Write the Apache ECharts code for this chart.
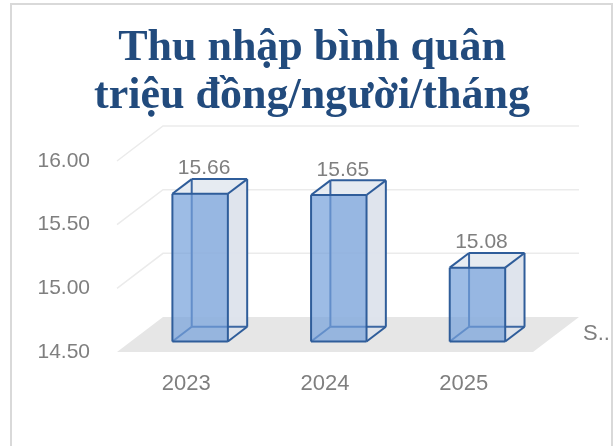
<!DOCTYPE html>
<html>
<head>
<meta charset="utf-8">
<script src="https://cdn.jsdelivr.net/npm/echarts@6/dist/echarts.min.js"></script>
<style>
  html, body { margin: 0; padding: 0; background: #fff; }
  #chart { width: 615px; height: 446px; }
</style>
</head>
<body>
<div id="chart"></div>
<script>
// data
var years = ['2023', '2024', '2025'];
var income = [15.66, 15.65, 15.08];
var yTicks = [14.5, 15, 15.5, 16];

// fake 3d depth (pixels) of the floor and where the box sits inside it
var DX = 46, DY = -35;
var F1 = 0.3, F2 = 0.72;
var EDGE = '#2F5D9A';

var chart = echarts.init(document.getElementById('chart'));

function wallItem(params, api) {
  var v = api.value(0);
  var cs = params.coordSys;
  var p = api.coord([0, v]);
  var y = p[1];
  var x0 = cs.x, x1 = cs.x + cs.width;
  var kids = [];
  if (params.dataIndex === 0) {
    kids.push({
      type: 'polygon',
      shape: { points: [[x0, y], [x1, y], [x1 + DX, y + DY], [x0 + DX, y + DY]] },
      style: { fill: '#E6E6E6' },
      z2: 0
    });
  } else {
    kids.push({
      type: 'polyline',
      shape: { points: [[x0, y], [x0 + DX, y + DY], [x1 + DX, y + DY]] },
      style: { stroke: '#EBEBEB', lineWidth: 1.5, fill: null }
    });
  }
  return { type: 'group', children: kids };
}

function boxItem(params, api) {
  var i = api.value(0);
  var v = api.value(1);
  var base = api.coord([i, yTicks[0]]);
  var top = api.coord([i, v]);
  var w = api.size([1, 0])[0] * 0.4;
  var fx0 = base[0] - w / 2 + F1 * DX, fx1 = fx0 + w;
  var fyT = top[1] + F1 * DY, fyB = base[1] + F1 * DY;
  var ox = (F2 - F1) * DX, oy = (F2 - F1) * DY;
  var bx0 = fx0 + ox, bx1 = fx1 + ox, byT = fyT + oy, byB = fyB + oy;
  function line(a, b, c) {
    return { type: 'line', shape: { x1: a[0], y1: a[1], x2: b[0], y2: b[1] },
      style: { stroke: c || EDGE, lineWidth: 2 } };
  }
  return {
    type: 'group',
    children: [
      { type: 'polygon', shape: { points: [[bx0, byT], [bx1, byT], [bx1, byB], [bx0, byB]] },
        style: { fill: 'rgba(225,230,238,0.7)' } },
      { type: 'polygon', shape: { points: [[fx1, fyT], [bx1, byT], [bx1, byB], [fx1, fyB]] },
        style: { fill: 'rgba(220,226,236,0.8)' } },
      { type: 'polygon', shape: { points: [[fx0, fyT], [fx1, fyT], [bx1, byT], [bx0, byT]] },
        style: { fill: 'rgba(230,235,242,0.9)' } },
      line([bx0, byT], [bx0, byB], '#3C67A3'),
      line([bx0, byB], [bx1, byB], '#3C67A3'),
      line([fx0, fyB], [bx0, byB], '#3C67A3'),
      { type: 'polygon', shape: { points: [[fx0, fyT], [fx1, fyT], [fx1, fyB], [fx0, fyB]] },
        style: { fill: 'rgba(115,160,218,0.7)' } },
      line([fx0, fyT], [fx1, fyT]), line([fx1, fyT], [fx1, fyB]),
      line([fx1, fyB], [fx0, fyB]), line([fx0, fyB], [fx0, fyT]),
      line([fx0, fyT], [bx0, byT]), line([fx1, fyT], [bx1, byT]),
      line([bx0, byT], [bx1, byT]), line([bx1, byT], [bx1, byB]),
      line([fx1, fyB], [bx1, byB]),
      { type: 'text', style: { text: v.toFixed(2), x: (fx0 + fx1) / 2 + 4, y: byT,
          align: 'center', verticalAlign: 'bottom', fill: '#7F7F7F',
          font: '21px "Liberation Sans", Arial, sans-serif' } }
    ]
  };
}

var option = {
  animation: false,
  grid: { left: 117, right: 82, top: 161, bottom: 94 },
  xAxis: {
    type: 'category',
    data: years,
    axisLine: { show: false },
    axisTick: { show: false },
    axisLabel: { color: '#7F7F7F', fontSize: 22, fontFamily: 'Liberation Sans', margin: 21 }
  },
  yAxis: {
    type: 'value',
    min: 14.5,
    max: 16,
    interval: 0.5,
    splitLine: { show: false },
    axisLabel: {
      color: '#7F7F7F', fontSize: 21, fontFamily: 'Liberation Sans', margin: 27,
      formatter: function (v) { return v.toFixed(2); }
    }
  },
  graphic: [
    { type: 'rect', shape: { x: 11, y: 4, width: 601, height: 460 },
      style: { fill: null, stroke: '#D9D9D9', lineWidth: 2 } },
    { type: 'text', x: 312, y: 49, style: { text: 'Thu nhập bình quân', align: 'center',
        verticalAlign: 'middle', fill: '#224B7D', font: 'bold 44px "Liberation Serif", "Times New Roman", serif' } },
    { type: 'text', x: 312, y: 97, style: { text: 'triệu đồng/người/tháng', align: 'center',
        verticalAlign: 'middle', fill: '#224B7D', font: 'bold 44px "Liberation Serif", "Times New Roman", serif' } },
    { type: 'text', x: 583, y: 334, style: { text: 'S..', verticalAlign: 'middle', fill: '#7F7F7F',
        font: '22px "Liberation Sans", Arial, sans-serif' } }
  ],
  series: [
    {
      type: 'custom',
      renderItem: wallItem,
      data: yTicks.map(function (t) { return [t]; }),
      z: 1,
      silent: true
    },
    {
      type: 'custom',
      renderItem: boxItem,
      data: income.map(function (v, i) { return [i, v]; }),
      z: 2
    }
  ]
};

chart.setOption(option);
</script>
</body>
</html>
